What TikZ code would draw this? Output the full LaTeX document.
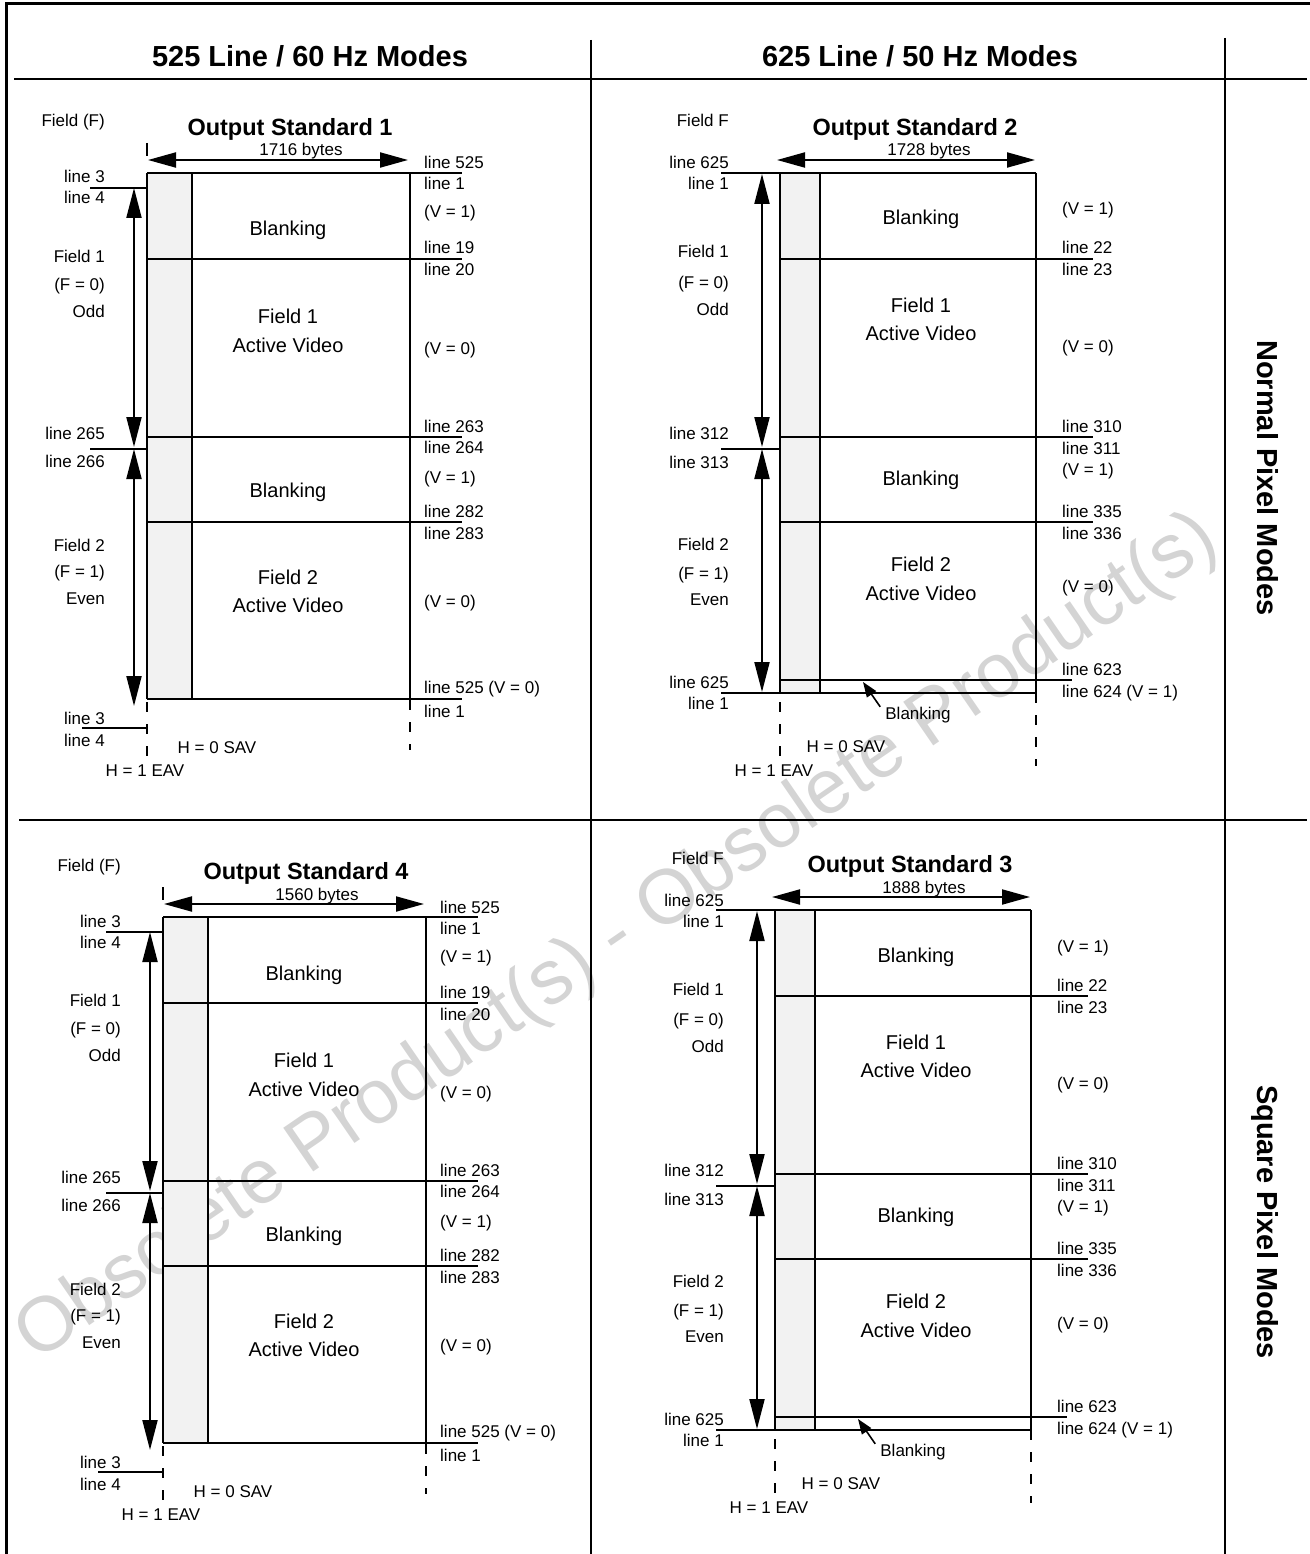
\documentclass[tikz,border=0pt]{standalone}
\usepackage{fontspec}
\setmainfont{Liberation Sans}
\usetikzlibrary{arrows.meta,calc,positioning}

\tikzset{
  lbl/.style={font=\fontsize{17}{19}\selectfont, inner sep=0pt, text height=12pt, text depth=0pt},
  mid/.style={font=\fontsize{20}{22}\selectfont, inner sep=0pt, text height=14pt, text depth=0pt},
  stdtitle/.style={font=\bfseries\fontsize{23.5}{26}\selectfont, inner sep=0pt, text height=17pt, text depth=0pt},
  head/.style={font=\bfseries\fontsize{29}{32}\selectfont, inner sep=0pt, text height=21pt, text depth=0pt},
  wmtext/.style={font=\fontsize{77}{80}\selectfont, text=black!17, inner sep=0pt},
  frame/.style={line width=3pt},
  rule/.style={line width=2pt},
  cut/.style={line width=2pt, dash pattern=on 10pt off 12pt},
  strip/.style={fill=black!5},
  wide/.style={line width=2pt, {Triangle[length=28pt,width=15pt]}-{Triangle[length=28pt,width=15pt]}},
  fieldarr/.style={line width=2pt, {Triangle[length=30pt,width=15pt]}-{Triangle[length=30pt,width=15pt]}},
  pointer/.style={line width=1.6pt, -{Triangle[length=15pt,width=11pt]}},
}

% 525 line panel: #1 prefix, #2 shift, #3 title, #4 line length
\newcommand{\panelfive}[4]{%
  \begin{scope}[shift={#2}]
    % title and line length
    \node[lbl, anchor=east] (#1field) at (105,121) {Field (F)};
    \node[stdtitle] (#1title) at (290,127) {#3};
    \node[lbl] (#1bytes) at (301,150) {#4};
    \coordinate (#1wl) at (148,160);
    \coordinate (#1wr) at (408,160);
    \draw[wide] (#1wl) -- (#1wr);
    \draw[rule] (147,143) -- (147,156);
    % frame with the grey strip
    \fill[strip] (147,173) rectangle (192,699);
    \draw[rule] (147,173) -- (147,699) (192,173) -- (192,699) (410,173) -- (410,699);
    \foreach \y in {173,259,437,522,699}
      \draw[rule] (147,\y) -- (462,\y);
    % field ticks and arrows
    \draw[rule] (90,188) -- (148,188);
    \draw[rule] (90,449) -- (148,449);
    \draw[rule] (82,728) -- (147,728);
    \coordinate (#1fa) at (134,188);
    \coordinate (#1fb) at (134,447);
    \coordinate (#1fc) at (134,449);
    \coordinate (#1fd) at (134,706);
    \draw[fieldarr] (#1fa) -- (#1fb);
    \draw[fieldarr] (#1fc) -- (#1fd);
    \draw[cut] (147,702) -- (147,756);
    \draw[cut] (410,700) -- (410,750);
    % left labels
    \foreach \y/\t [count=\i] in {177/{line 3}, 198/{line 4}, 256/{Field 1}, 284/{(F = 0)},
        311/{Odd}, 433/{line 265}, 461/{line 266}, 545/{Field 2}, 571/{(F = 1)},
        598/{Even}, 718/{line 3}, 740/{line 4}}
      \node[lbl, anchor=east] (#1l\i) at (105,\y) {\t};
    % right labels
    \foreach \y/\t [count=\i] in {163/{line 525}, 184/{line 1}, 212/{(V = 1)}, 248/{line 19},
        270/{line 20}, 348/{(V = 0)}, 426/{line 263}, 447/{line 264}, 477/{(V = 1)},
        511/{line 282}, 533/{line 283}, 601/{(V = 0)}, 687/{line 525 (V = 0)}, 711/{line 1}}
      \node[lbl, anchor=west] (#1r\i) at (424,\y) {\t};
    % inside the frame
    \node[mid] (#1blank1) at (288,229) {Blanking};
    \node[mid] (#1act1) at (288,316) {Field 1};
    \node[mid] (#1act1b) at (288,345) {Active Video};
    \node[mid] (#1blank2) at (288,490) {Blanking};
    \node[mid] (#1act2) at (288,577) {Field 2};
    \node[mid] (#1act2b) at (288,605) {Active Video};
    \node[lbl] (#1sav) at (217,747) {H = 0 SAV};
    \node[lbl] (#1eav) at (145,770) {H = 1 EAV};
  \end{scope}}

% 625 line panel: #1 prefix, #2 shift, #3 title, #4 line length
\newcommand{\panelsix}[4]{%
  \begin{scope}[shift={#2}]
    % title and line length
    \node[lbl, anchor=east] (#1field) at (729,121) {Field F};
    \node[stdtitle] (#1title) at (915,127) {#3};
    \node[lbl] (#1bytes) at (929,150) {#4};
    \coordinate (#1wl) at (777,160);
    \coordinate (#1wr) at (1035,160);
    \draw[wide] (#1wl) -- (#1wr);
    % frame with the grey strip
    \fill[strip] (780,173) rectangle (820,693);
    \draw[rule] (780,173) -- (780,693) (820,173) -- (820,693) (1036,173) -- (1036,693);
    \draw[rule] (721,173) -- (1036,173);
    \foreach \y in {259,437,522}
      \draw[rule] (780,\y) -- (1093,\y);
    \draw[rule] (780,680) -- (1072,680);
    \draw[rule] (721,693) -- (1036,693);
    % field ticks and arrows
    \draw[rule] (721,449) -- (780,449);
    \coordinate (#1fa) at (762,174);
    \coordinate (#1fb) at (762,447);
    \coordinate (#1fc) at (762,449);
    \coordinate (#1fd) at (762,692);
    \draw[fieldarr] (#1fa) -- (#1fb);
    \draw[fieldarr] (#1fc) -- (#1fd);
    \draw[cut] (780,702) -- (780,756);
    \draw[cut] (1036,693) -- (1036,766);
    % left labels
    \foreach \y/\t [count=\i] in {163/{line 625}, 184/{line 1}, 252/{Field 1}, 282/{(F = 0)},
        309/{Odd}, 433/{line 312}, 462/{line 313}, 544/{Field 2}, 573/{(F = 1)},
        599/{Even}, 682/{line 625}, 703/{line 1}}
      \node[lbl, anchor=east] (#1l\i) at (729,\y) {\t};
    % right labels
    \foreach \y/\t [count=\i] in {209/{(V = 1)}, 248/{line 22}, 270/{line 23}, 346/{(V = 0)},
        426/{line 310}, 448/{line 311}, 469/{(V = 1)}, 511/{line 335}, 533/{line 336},
        586/{(V = 0)}, 669/{line 623}, 691/{line 624 (V = 1)}}
      \node[lbl, anchor=west] (#1r\i) at (1062,\y) {\t};
    % inside the frame
    \node[mid] (#1blank1) at (921,218) {Blanking};
    \node[mid] (#1act1) at (921,305) {Field 1};
    \node[mid] (#1act1b) at (921,333) {Active Video};
    \node[mid] (#1blank2) at (921,478) {Blanking};
    \node[mid] (#1act2) at (921,564) {Field 2};
    \node[mid] (#1act2b) at (921,593) {Active Video};
    % blanking below field 2
    \node[lbl] (#1blank3) at (918,713) {Blanking};
    \coordinate (#1tip) at (863,682);
    \draw[pointer] ([xshift=-5pt]#1blank3.north west) -- (#1tip);
    \node[lbl] (#1sav) at (846,746) {H = 0 SAV};
    \node[lbl] (#1eav) at (774,770) {H = 1 EAV};
  \end{scope}}

\begin{document}
\begin{tikzpicture}[x=1pt, y=-1pt]
  \useasboundingbox (0,0) rectangle (1309,1554);
  % watermark
  \node[wmtext, rotate=34.5, anchor=base] (wm) at (629,955) {Obsolete Product(s) - Obsolete Product(s)};
  % table
  \draw[frame] (6,1570) -- (6,4) -- (1320,4);
  \draw[rule] (14,79) -- (1307,79);
  \draw[rule] (19,820) -- (1307,820);
  \draw[rule] (591,40) -- (591,1554);
  \draw[rule] (1225,38) -- (1225,1554);
  \node[head] (h525) at (310,56) {525 Line / 60 Hz Modes};
  \node[head] (h625) at (920,56) {625 Line / 50 Hz Modes};
  \node[head, rotate=-90] (normal) at (1268,478) {Normal Pixel Modes};
  \node[head, rotate=-90] (square) at (1268,1222) {Square Pixel Modes};
  % the four panels
  \panelfive{a}{(0,0)}{Output Standard 1}{1716 bytes}
  \panelsix{b}{(0,0)}{Output Standard 2}{1728 bytes}
  \panelfive{d}{(16,744)}{Output Standard 4}{1560 bytes}
  \panelsix{c}{(-5,737)}{Output Standard 3}{1888 bytes}
\end{tikzpicture}
\end{document}
